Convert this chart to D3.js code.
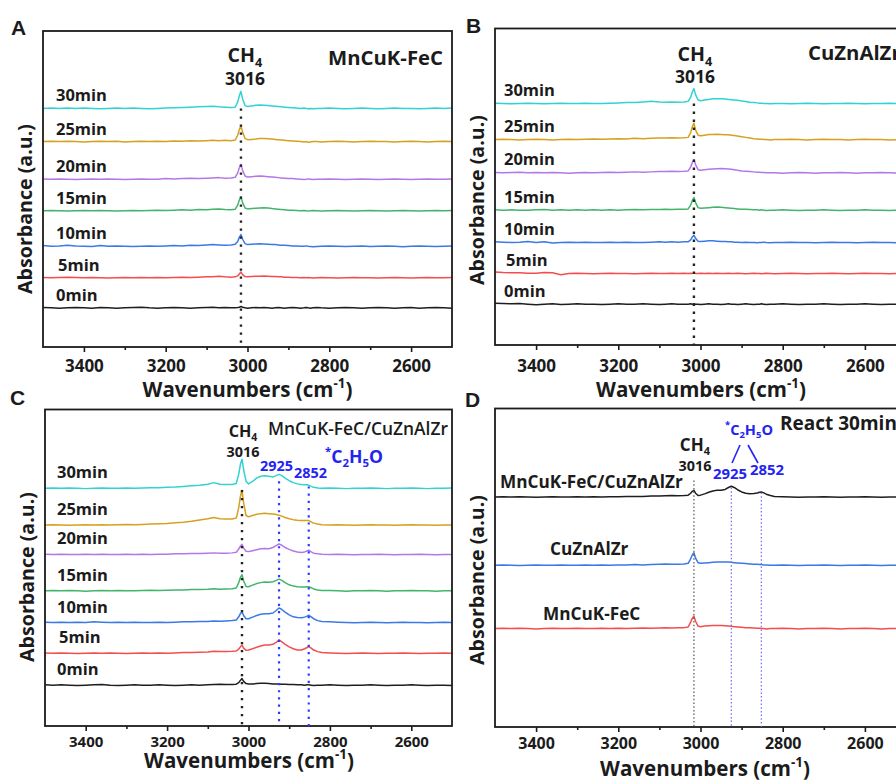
<!DOCTYPE html>
<html><head><meta charset="utf-8">
<script src="https://cdn.jsdelivr.net/npm/d3@7"></script>
<style>html,body{margin:0;padding:0;background:#fff;} svg{display:block;font-family:"Open Sans",sans-serif;}</style>
</head><body><svg id="c" width="896" height="782"></svg>
<script>
// ---------------- DATA ----------------
const wavenumbers = [3500,3480,3460,3440,3420,3400,3380,3360,3340,3320,3300,3280,3260,3240,3220,3200,3180,3160,3140,3120,3100,
  3085,3070,3055,3040,
  3030,3024,3020,3016,3012,3006,3000,
  2990,2980,2970,2960,2950,2940,
  2932,2925,2918,2910,2900,
  2890,2880,2870,2862,2856,2852,2846,2840,2830,2820,
  2800,2780,2760,2740,2720,2700,2680,2660,2640,2620,2600,2580,2560,2540,2520,2500];
const majorTicks = [3400,3200,3000,2800,2600];
const minorTicks = [3300,3100,2900,2700];
const timeLabels = ["0min","5min","10min","15min","20min","25min","30min"];
const peakCH4 = 3016, peakA = 2925, peakB = 2852;

// stacking offsets (a.u.) of each spectrum
const offsetsA = [12.4,21.9,31.9,43.1,53.1,65.0,75.5];
const offsetsB = [12.9,22.6,32.4,42.6,54.4,64.9,76.3];
const offsetsC = [12.9,23.0,32.7,42.7,54.2,63.5,75.1];
const catalystsD = ["MnCuK-FeC","CuZnAlZr","MnCuK-FeC/CuZnAlZr"];
const offsetsD = [30.9,50.8,72.2];

// Panel A: MnCuK-FeC
const A_0min = [0.1,0.0,-0.1,0.0,0.1,0.0,-0.1,0.1,0.0,-0.1,0.0,0.1,0.2,0.0,-0.1,0.0,0.1,0.0,-0.1,0.0,0.1,
  0.2,0.0,0.1,0.0, 0.0,0.1,0.2,0.4,0.2,0.0,-0.1, 0.0,0.1,0.0,0.1,0.0,-0.1, 0.0,0.1,0.0,-0.1,0.0,
  0.1,0.0,-0.1,0.0,0.1,0.0,-0.1,0.0,0.1,0.0,
  -0.1,0.0,0.1,0.0,-0.1,0.0,0.1,0.0,-0.1,0.0,0.1,-0.1,0.0,0.1,0.0,-0.1];
const A_5min = [0.1,0.0,0.1,0.2,0.1,0.0,0.1,0.0,-0.1,0.0,0.1,0.0,0.1,0.0,0.1,0.0,0.1,0.2,0.1,0.2,0.3,
  0.3,0.5,0.3,0.2, 0.3,0.6,1.2,1.8,1.0,0.4,0.3, 0.4,0.5,0.5,0.6,0.5,0.4, 0.4,0.3,0.3,0.2,0.2,
  0.1,0.1,0.0,0.1,0.0,0.1,0.0,-0.1,0.0,0.1,
  0.0,-0.1,0.0,0.1,0.0,0.0,-0.1,0.0,0.1,0.0,-0.1,0.0,0.1,0.0,0.0,0.1];
const A_10min = [0.2,0.0,0.1,0.3,0.1,0.0,-0.1,0.2,0.0,0.1,0.0,-0.1,0.0,0.1,0.0,0.1,0.2,0.1,0.3,0.2,0.4,
  0.5,0.4,0.3,0.4, 0.6,1.5,2.8,3.7,2.2,0.8,0.5, 0.6,0.7,0.8,0.7,0.6,0.5, 0.5,0.4,0.3,0.3,0.2,
  0.1,0.1,0.0,0.0,0.1,0.0,-0.1,-0.2,-0.1,0.0,
  0.1,0.0,-0.1,0.0,0.1,-0.1,0.0,0.1,0.0,-0.2,0.0,0.1,0.0,-0.1,0.0,0.1];
const A_15min = [0.0,0.1,0.0,-0.1,0.0,0.1,0.0,0.1,0.0,-0.1,0.0,0.1,0.0,0.1,0.2,0.1,0.2,0.3,0.2,0.4,0.3,
  0.5,0.6,0.4,0.3, 0.5,1.8,3.4,4.4,2.6,0.9,0.6, 0.7,0.8,0.9,1.0,0.9,0.7, 0.6,0.5,0.4,0.3,0.2,
  0.2,0.1,0.0,0.1,0.0,-0.1,0.0,0.1,0.0,-0.1,
  0.0,0.1,0.0,-0.1,0.0,0.1,0.0,-0.1,0.0,0.1,0.0,-0.1,0.0,0.1,0.0,0.1];
const A_20min = [0.1,0.0,0.1,0.0,-0.1,0.0,0.1,0.0,0.1,0.0,-0.1,0.0,0.1,0.0,0.0,0.2,0.1,0.2,0.3,0.2,0.3,
  0.4,0.5,0.3,0.4, 0.6,2.0,3.6,4.7,2.8,1.0,0.7, 0.8,0.9,1.0,0.9,0.8,0.7, 0.6,0.5,0.4,0.3,0.2,
  0.2,0.1,0.0,-0.1,0.0,0.1,0.0,-0.1,0.0,0.0,
  0.1,0.0,-0.1,0.0,0.1,0.0,-0.1,0.0,0.1,0.0,-0.1,0.0,0.1,0.0,0.0,0.1];
const A_25min = [0.0,0.1,0.0,0.1,0.0,-0.1,0.0,0.1,0.0,0.1,-0.1,0.0,0.1,0.0,0.1,0.0,0.2,0.1,0.3,0.2,0.3,
  0.4,0.3,0.4,0.3, 0.5,2.0,3.8,5.0,3.0,1.0,0.6, 0.7,0.8,1.0,1.0,0.9,0.8, 0.7,0.6,0.5,0.4,0.3,
  0.2,0.1,0.0,-0.1,0.0,-0.2,-0.1,0.0,0.0,-0.1,
  0.0,0.1,0.0,-0.1,0.0,0.1,0.0,0.0,-0.1,0.0,0.1,0.0,-0.1,0.0,0.1,0.0];
const A_30min = [0.0,0.1,0.0,0.1,0.0,0.1,0.0,-0.1,0.0,0.1,0.0,0.1,0.0,-0.1,0.0,0.1,0.2,0.3,0.4,0.5,0.6,
  0.7,0.5,0.4,0.3, 0.4,2.0,4.0,5.4,3.0,0.9,0.6, 0.8,1.0,1.1,1.0,0.9,0.8, 0.7,0.6,0.5,0.4,0.3,
  0.2,0.1,0.0,0.1,0.0,-0.1,0.0,-0.1,0.0,0.0,
  0.1,0.0,-0.1,0.0,0.1,0.0,-0.1,0.0,0.1,0.0,0.0,-0.1,0.0,0.1,0.0,0.1];

// Panel B: CuZnAlZr
const B_0min = [0.3,0.2,0.1,0.2,0.0,-0.2,0.0,0.1,-0.1,0.0,0.1,0.0,0.0,-0.1,0.0,0.1,0.0,0.0,0.1,0.0,-0.1,
  0.0,0.1,0.0,0.0, 0.0,0.1,0.0,0.1,0.0,0.0,-0.1, 0.0,0.1,0.0,0.0,-0.1,0.0, 0.1,0.0,0.0,-0.1,0.0,
  0.1,0.0,-0.1,0.0,0.0,0.1,0.0,-0.1,0.0,0.0,
  0.1,0.0,-0.1,0.0,0.0,0.1,0.0,-0.1,0.0,0.0,0.1,0.0,-0.1,0.0,0.0,0.0];
const B_5min = [0.5,0.3,0.2,0.2,0.1,0.1,0.3,0.2,-0.4,0.0,0.1,0.0,-0.1,0.0,0.1,0.0,0.0,-0.1,0.0,0.1,0.0,
  0.0,0.1,0.0,0.1, 0.0,0.1,0.0,0.2,0.0,0.0,0.1, 0.0,0.1,0.0,0.1,0.0,0.0, 0.1,0.0,0.0,0.1,0.0,
  -0.1,0.0,0.1,0.0,0.0,-0.1,0.0,0.1,0.0,-0.1,
  0.0,0.1,0.0,-0.1,0.0,0.0,0.1,0.0,-0.1,0.0,0.1,0.0,0.0,-0.1,0.0,0.0];
const B_10min = [0.2,0.1,0.0,0.1,0.3,0.0,0.2,-0.2,0.0,0.1,0.0,0.1,0.0,0.0,0.1,0.0,0.1,0.0,0.0,0.1,0.2,
  0.1,0.2,0.1,0.2, 0.2,0.8,1.7,2.3,1.3,0.4,0.3, 0.4,0.5,0.5,0.4,0.3,0.3, 0.2,0.2,0.1,0.1,0.0,
  0.1,0.0,0.0,-0.1,0.0,0.0,0.1,0.0,-0.1,0.0,
  0.0,0.1,0.0,0.0,-0.1,0.0,0.1,0.0,0.0,-0.1,0.0,0.1,0.0,0.0,-0.1,0.0];
const B_15min = [0.1,0.0,0.1,0.0,0.0,0.1,0.2,0.0,0.1,0.0,0.1,0.0,0.1,0.0,0.1,0.0,0.1,0.2,0.1,0.2,0.2,
  0.3,0.2,0.3,0.3, 0.4,1.6,3.0,4.0,2.4,0.8,0.6, 0.7,0.8,0.9,1.0,0.9,0.8, 0.7,0.6,0.5,0.4,0.3,
  0.3,0.2,0.1,0.1,0.0,0.1,0.0,-0.1,0.0,0.0,
  0.1,0.0,-0.1,0.0,0.0,0.1,0.0,-0.1,0.0,0.0,0.1,0.0,0.0,-0.1,0.0,0.0];
const B_20min = [0.1,0.0,0.1,0.2,0.0,0.1,0.0,0.1,0.0,-0.1,0.0,0.1,0.0,0.1,0.2,0.1,0.2,0.3,0.2,0.3,0.4,
  0.4,0.5,0.4,0.5, 0.6,1.8,3.2,4.2,2.6,1.0,0.8, 1.0,1.1,1.2,1.3,1.4,1.3, 1.2,1.1,1.0,0.8,0.6,
  0.5,0.4,0.3,0.2,0.2,0.1,0.1,0.0,0.0,0.0,
  -0.1,0.0,0.1,0.0,-0.1,0.0,0.0,0.1,0.0,-0.1,0.0,0.0,0.1,0.0,-0.1,0.0];
const B_25min = [0.0,0.1,0.0,-0.1,0.0,0.1,0.0,-0.1,0.0,0.1,0.0,0.1,0.2,0.1,0.2,0.3,0.2,0.4,0.3,0.4,0.5,
  0.5,0.6,0.5,0.6, 0.7,2.2,4.0,5.2,3.0,1.4,1.2, 1.4,1.6,1.6,1.7,1.6,1.5, 1.5,1.4,1.3,1.1,0.9,
  0.7,0.5,0.3,0.2,0.1,0.1,0.0,0.0,-0.1,0.0,
  0.0,0.1,0.0,-0.1,0.0,0.1,0.0,0.0,-0.1,0.0,0.1,0.0,0.0,-0.1,0.0,0.0];
const B_30min = [0.1,0.0,-0.1,0.0,0.1,0.0,-0.1,0.0,0.1,0.0,0.0,0.1,0.0,0.0,0.1,0.2,0.3,0.3,0.5,0.7,0.5,
  0.4,0.5,0.4,0.5, 0.7,2.0,3.6,4.7,2.8,1.1,0.9, 1.1,1.3,1.5,1.5,1.5,1.4, 1.3,1.2,1.1,1.0,0.8,
  0.6,0.4,0.3,0.2,0.1,0.1,0.0,0.0,-0.1,0.0,
  0.0,-0.1,0.0,0.1,0.0,-0.1,0.0,0.0,0.1,0.0,-0.1,0.0,0.0,0.1,0.0,0.0];

// Panel C: MnCuK-FeC/CuZnAlZr
const C_0min = [0.1,0.0,0.1,0.0,-0.1,0.0,0.1,0.2,0.0,-0.1,0.0,0.1,0.0,0.0,0.1,0.0,-0.1,0.0,0.1,0.0,0.1,
  0.2,0.3,0.2,0.2, 0.3,0.8,1.5,2.1,1.2,0.5,0.4, 0.4,0.5,0.6,0.6,0.5,0.4, 0.4,0.4,0.3,0.3,0.2,
  0.2,0.1,0.1,0.0,0.1,0.1,0.0,-0.1,0.0,0.0,
  0.1,0.0,-0.1,0.0,0.0,0.1,0.0,-0.1,0.0,0.0,0.1,0.0,-0.1,0.0,0.0,-0.1];
const C_5min = [0.1,0.0,0.1,0.0,-0.1,0.0,0.1,0.0,0.1,0.0,-0.1,0.0,0.1,0.0,0.1,0.0,0.1,0.2,0.2,0.3,0.4,
  0.6,0.5,0.5,0.6, 0.7,1.3,2.0,2.6,1.6,0.9,1.0, 1.4,1.9,2.3,2.6,2.6,2.8, 3.4,4.2,3.6,2.8,2.0,
  1.4,1.0,1.0,1.4,1.8,2.1,1.6,1.0,0.5,0.2,
  0.1,0.0,-0.1,0.0,0.1,0.0,-0.1,0.0,0.0,0.1,0.0,-0.1,0.0,0.0,0.1,0.0];
const C_10min = [0.1,0.0,0.1,0.0,0.1,0.0,0.2,0.1,0.0,0.1,0.0,0.1,0.0,0.0,0.1,0.0,0.1,0.2,0.2,0.3,0.3,
  0.5,0.4,0.5,0.6, 0.8,1.8,2.8,3.4,2.2,1.2,1.2, 1.7,2.2,2.6,2.8,2.8,3.0, 3.8,4.6,4.1,3.3,2.4,
  1.8,1.6,1.5,1.7,2.0,2.3,1.8,1.2,0.6,0.3,
  0.2,0.1,0.0,-0.1,0.0,0.1,0.0,-0.1,0.0,0.1,0.0,0.0,-0.1,0.0,0.1,0.0];
const C_15min = [0.0,0.1,0.0,0.1,0.0,-0.1,0.0,0.1,0.0,0.1,0.0,0.0,0.1,0.2,0.1,0.2,0.3,0.3,0.4,0.4,0.5,
  0.7,0.5,0.6,0.7, 0.9,2.6,4.2,5.1,3.2,1.4,1.3, 1.8,2.3,2.6,2.8,2.7,2.9, 3.3,3.7,3.3,2.6,1.9,
  1.5,1.3,1.2,1.2,1.3,1.3,1.0,0.6,0.3,0.1,
  0.1,0.0,-0.1,0.0,0.0,0.1,0.0,-0.1,0.0,0.0,0.1,0.0,0.0,-0.1,0.0,0.0];
const C_20min = [0.1,0.0,0.1,0.0,0.0,0.1,0.0,0.1,0.0,0.0,0.1,0.0,0.1,0.0,0.1,0.1,0.2,0.2,0.3,0.3,0.4,
  0.5,0.4,0.4,0.5, 0.7,1.7,2.6,3.2,2.0,1.0,0.9, 1.2,1.5,1.8,1.9,1.8,2.2, 2.8,3.3,2.9,2.2,1.6,
  1.1,0.8,0.6,0.8,1.1,1.4,0.8,0.4,0.2,0.1,
  0.0,0.1,0.0,-0.1,0.0,0.0,0.1,0.0,-0.1,0.0,0.0,0.1,0.0,-0.1,0.0,0.0];
const C_25min = [0.0,0.1,0.0,-0.1,0.0,0.1,0.0,0.1,0.0,0.1,0.2,0.1,0.2,0.3,0.4,0.5,0.7,0.9,1.2,1.6,2.0,
  2.4,2.0,1.9,1.9, 2.2,5.5,9.0,11.0,7.0,3.0,2.6, 3.0,3.4,3.6,3.7,3.6,3.5, 3.3,3.1,2.8,2.4,2.0,
  1.7,1.5,1.4,1.4,1.4,1.4,1.0,0.6,0.3,0.1,
  0.0,0.1,0.0,-0.1,0.0,0.1,0.0,0.0,-0.1,0.0,0.1,0.0,0.0,-0.1,0.0,0.0];
const C_30min = [0.0,0.1,0.0,0.1,0.0,-0.1,0.0,0.1,0.0,0.0,0.1,0.0,0.1,0.2,0.2,0.3,0.4,0.6,0.8,1.0,1.3,
  1.8,1.3,1.2,1.2, 1.5,4.5,7.5,9.2,6.0,2.2,1.4, 2.2,3.2,3.8,4.0,3.8,3.6, 4.0,4.4,4.0,3.2,2.4,
  1.8,1.4,1.2,1.1,1.1,1.0,0.6,0.3,0.1,0.0,
  0.1,0.0,-0.1,0.0,0.0,0.1,0.0,-0.1,0.0,0.0,0.1,0.0,-0.1,0.0,0.0,0.1];

// Panel D: React 30min
const D_MnCuKFeC = [0.0,0.1,0.0,0.1,0.0,-0.1,0.0,0.1,0.0,0.0,0.1,0.0,0.0,0.1,0.0,0.1,0.0,0.1,0.2,0.1,0.2,
  0.3,0.2,0.3,0.3, 0.5,2.0,3.2,3.9,2.3,0.8,0.6, 0.8,0.9,1.0,1.0,1.0,0.9, 0.8,0.7,0.6,0.5,0.4,
  0.3,0.3,0.2,0.1,0.1,0.0,0.0,-0.1,0.0,0.0,
  0.1,0.0,-0.1,0.0,0.0,0.1,0.0,-0.1,0.0,0.0,0.1,0.0,-0.1,0.0,0.0,0.0];
const D_CuZnAlZr = [0.0,0.1,0.0,-0.1,0.0,0.1,0.0,0.0,0.1,0.0,0.0,0.1,0.0,0.1,0.0,0.1,0.1,0.2,0.1,0.2,0.3,
  0.4,0.3,0.3,0.4, 0.6,2.0,3.2,3.9,2.2,0.8,0.6, 0.7,0.8,0.9,1.0,1.0,1.0, 1.0,0.9,0.8,0.7,0.6,
  0.5,0.4,0.3,0.3,0.2,0.2,0.1,0.1,0.0,0.0,
  0.1,0.0,-0.1,0.0,0.0,0.1,0.0,-0.1,0.0,0.0,0.1,0.0,-0.1,0.0,0.0,0.0];
const D_Tandem = [0.0,0.1,0.0,0.1,0.0,-0.1,0.0,0.1,0.0,0.0,0.1,0.0,0.1,0.0,0.1,0.1,0.2,0.2,0.2,0.3,0.3,
  0.4,0.5,0.4,0.5, 0.6,1.2,1.8,2.1,1.2,0.5,0.6, 1.0,1.5,1.9,2.1,2.1,2.4, 3.0,3.4,3.0,2.3,1.6,
  1.2,1.0,1.1,1.3,1.5,1.6,1.3,0.9,0.5,0.2,
  0.1,0.0,-0.1,0.0,0.0,0.1,0.0,-0.1,0.0,0.0,0.1,0.0,-0.1,0.0,0.0,0.0];

// ---------------- DRAWING ----------------
const ink = "#1b1b1b";
const timeColors = ["#1e1e1e","#f44d4d","#3a79e6","#42b46b","#b477e8","#d5a11e","#33d2d2"];
const blueTxt = "#2424f0";
const svg = d3.select("#c");
svg.append("rect").attr("width",896).attr("height",782).attr("fill","#fff");

function rich(g, x, y, parts, attrs) {
  const t = g.append("text").attr("x", x).attr("y", y).attr("fill", ink).attr("font-weight", 700);
  for (const k in attrs) t.attr(k, attrs[k]);
  let pending = 0;
  (typeof parts === "string" ? [[parts]] : parts).forEach(([s, kind]) => {
    const sp = t.append("tspan").text(s);
    if (kind === "sub") { sp.attr("font-size","0.65em").attr("dy", ((0.24 - pending)/0.65).toFixed(3)+"em"); pending = 0.24; }
    else if (kind === "sup") { sp.attr("font-size","0.65em").attr("dy", ((-0.45 - pending)/0.65).toFixed(3)+"em"); pending = -0.45; }
    else { if (pending) sp.attr("dy", (-pending).toFixed(3)+"em"); pending = 0; }
  });
  return t;
}
function fit(t, w) {
  const cur = t.node().getComputedTextLength();
  const fs = parseFloat(t.attr("font-size"));
  const nf = fs * w / cur;
  t.attr("font-size", nf.toFixed(2));
  return nf;
}

function panel(cfg) {
  const g = svg.append("g");
  const x = d3.scaleLinear().domain([3500,2500]).range([cfg.left, cfg.right]);
  const y = d3.scaleLinear().domain([0,100]).range([cfg.bottom, cfg.top]);
  const line = d3.line().x((d,i) => x(wavenumbers[i])).y(d => y(d));
  cfg.series.forEach(s => {
    g.append("path").attr("d", line(s.values.map(v => v + s.offset)))
      .attr("fill","none").attr("stroke", s.color).attr("stroke-width", 1.5).attr("stroke-linejoin","round");
  });
  g.append("rect").attr("x", cfg.left).attr("y", cfg.top)
    .attr("width", cfg.right - cfg.left).attr("height", cfg.bottom - cfg.top)
    .attr("fill","none").attr("stroke", ink).attr("stroke-width", 1.8);
  const ax = g.append("g").attr("transform", `translate(0,${cfg.bottom})`)
    .call(d3.axisBottom(x).tickValues(majorTicks).tickSize(5).tickSizeOuter(0).tickFormat(d3.format("d")));
  ax.attr("font-family", null).attr("font-size", null);
  ax.select(".domain").remove();
  ax.selectAll("line").attr("stroke", ink).attr("stroke-width", 1.6);
  ax.selectAll("text").attr("dy", null).attr("y", cfg.tickY - cfg.bottom)
    .attr("font-size", cfg.tickFs).attr("font-weight", 700).attr("fill", ink);
  const mx = g.append("g").attr("transform", `translate(0,${cfg.bottom})`)
    .call(d3.axisBottom(x).tickValues(minorTicks).tickSize(3).tickSizeOuter(0).tickFormat(""));
  mx.select(".domain").remove();
  mx.selectAll("line").attr("stroke", ink).attr("stroke-width", 1.6);
  const xt = rich(g, cfg.titleX, cfg.titleY, [["Wavenumbers (cm"],["-1","sup"],[")"]], {"text-anchor":"middle","font-size":20});
  fit(xt, 210);
  const yt = rich(g, 0, 0, "Absorbance (a.u.)", {"text-anchor":"middle","font-size":18,
    transform:`translate(${cfg.ytX},${cfg.ytY}) rotate(-90)`, dy:"0.35em"});
  fit(yt, 170);
  rich(g, cfg.letterX, cfg.letterY, cfg.letter, {"font-family":"Liberation Sans, Arial, sans-serif","font-size":21});
  return {g, x, y};
}

function dotted(p, wn, yFrom, color, width, dash) {
  p.g.append("line").attr("x1", p.x(wn)).attr("x2", p.x(wn))
    .attr("y1", p.y(yFrom)).attr("y2", p.y(0))
    .attr("stroke", color).attr("stroke-width", width).attr("stroke-dasharray", dash);
}

function timeSeries(vals, offs) {
  return vals.map((v,i) => ({name: timeLabels[i], values: v, offset: offs[i], color: timeColors[i]}));
}

const pA = panel({left:43, right:452, top:31, bottom:347, tickY:371.5, tickFs:17, titleX:247.5, titleY:397,
  ytX:25, ytY:209, letter:"A", letterX:11, letterY:35,
  series: timeSeries([A_0min,A_5min,A_10min,A_15min,A_20min,A_25min,A_30min], offsetsA)});
dotted(pA, peakCH4, offsetsA[6], "#222", 2.4, "2.4,5.6");
const pB = panel({left:495, right:906, top:28.5, bottom:345, tickY:371.5, tickFs:17, titleX:701, titleY:397,
  ytX:477, ytY:200, letter:"B", letterX:466, letterY:33,
  series: timeSeries([B_0min,B_5min,B_10min,B_15min,B_20min,B_25min,B_30min], offsetsB)});
dotted(pB, peakCH4, offsetsB[6], "#222", 2.4, "2.4,5.6");
const pC = panel({left:45, right:452, top:409.5, bottom:726, tickY:746.5, tickFs:15, titleX:249, titleY:768,
  ytX:27, ytY:577, letter:"C", letterX:10, letterY:405,
  series: timeSeries([C_0min,C_5min,C_10min,C_15min,C_20min,C_25min,C_30min], offsetsC)});
dotted(pC, peakCH4, offsetsC[6] - 0.5, "#222", 2.4, "2.4,5.6");
dotted(pC, peakA, offsetsC[6] + 2.2, "#2a3cff", 2.2, "2.2,5");
dotted(pC, peakB, offsetsC[6] + 0.6, "#2a3cff", 2.2, "2.2,5");
const pD = panel({left:495, right:906, top:408.5, bottom:727, tickY:749, tickFs:16, titleX:705, titleY:776,
  ytX:477, ytY:580, letter:"D", letterX:465, letterY:407,
  series: [D_MnCuKFeC, D_CuZnAlZr, D_Tandem].map((v,i) => ({name: catalystsD[i], values: v, offset: offsetsD[i], color: ["#f44d4d","#3a79e6","#1e1e1e"][i]}))});
dotted(pD, peakCH4, offsetsD[2] + 5.2, "#555", 1.2, "1.5,2.2");
dotted(pD, peakA, offsetsD[2] + 3.0, "#6a6aff", 1.2, "1.5,2.2");
dotted(pD, peakB, offsetsD[2] + 1.4, "#6a6aff", 1.2, "1.5,2.2");

// time labels A, B, C
[[pA, offsetsA, 56, 7], [pB, offsetsB, 504, 7.5], [pC, offsetsC, 57, 10]].forEach(([p, offs, lx, gap]) => {
  const probe = rich(p.g, -100, -100, "30min", {"font-size":16});
  const fs = fit(probe, 51); probe.remove();
  offs.forEach((o, i) => rich(p.g, lx + (i === 1 ? 2 : 0), p.y(o) - gap, timeLabels[i], {"font-size": fs}));
});

// annotations
function ch4(p, cx, y1, y2, w, k) {
  const b = rich(p.g, cx, y2, String(peakCH4), {"text-anchor":"middle","font-size":17});
  const f = fit(b, w);
  rich(p.g, cx, y1, [["CH"],["4","sub"]], {"text-anchor":"middle","font-size": (f * k).toFixed(2)});
}
ch4(pA, pA.x(peakCH4) + 4, 62, 85, 40, 1.12);
ch4(pB, pB.x(peakCH4) + 1, 61, 83, 40, 1.12);
ch4(pC, pC.x(peakCH4) + 1, 437, 457, 33, 1.12);
ch4(pD, pD.x(peakCH4) + 1, 451, 471, 33, 1.18);

const tA = rich(pA.g, 443, 65, "MnCuK-FeC", {"text-anchor":"end","font-size":17});
const fsCat = fit(tA, 115);
rich(pB.g, 808, 60, "CuZnAlZr", {"font-size": fsCat});
const tC = rich(pC.g, 268, 435, "MnCuK-FeC/CuZnAlZr", {"font-size":15, "font-weight":600});
fit(tC, 180);

const c1 = rich(pC.g, 260, 470.5, String(peakA), {"font-size":15, fill: blueTxt});
const fsBlue = fit(c1, 33);
rich(pC.g, 294, 478, String(peakB), {"font-size": fsBlue, fill: blueTxt});
const c3 = rich(pC.g, 325, 463, [["*","sup"],["C"],["2","sub"],["H"],["5","sub"],["O"]], {"font-size":17, fill: blueTxt});
fit(c3, 58);

const d1 = rich(pD.g, 500, 488, catalystsD[2], {"font-size":16});
const fsD = fit(d1, 183);
rich(pD.g, 550, 555, catalystsD[1], {"font-size": fsD});
rich(pD.g, 543, 620, catalystsD[0], {"font-size": fsD});
const d2 = rich(pD.g, 713, 479, String(peakA), {"font-size":15, fill: blueTxt});
const fsBD = fit(d2, 34);
rich(pD.g, 750, 475, String(peakB), {"font-size": fsBD, fill: blueTxt});
const d3t = rich(pD.g, 725, 435, [["*","sup"],["C"],["2","sub"],["H"],["5","sub"],["O"]], {"font-size":14, fill: blueTxt});
fit(d3t, 48);
pD.g.append("line").attr("x1",740).attr("y1",445).attr("x2",732).attr("y2",463).attr("stroke",blueTxt).attr("stroke-width",1.6);
pD.g.append("line").attr("x1",748).attr("y1",445).attr("x2",758).attr("y2",463).attr("stroke",blueTxt).attr("stroke-width",1.6);
rich(pD.g, 780, 430, "React 30min", {"font-size":19});
</script></body></html>
